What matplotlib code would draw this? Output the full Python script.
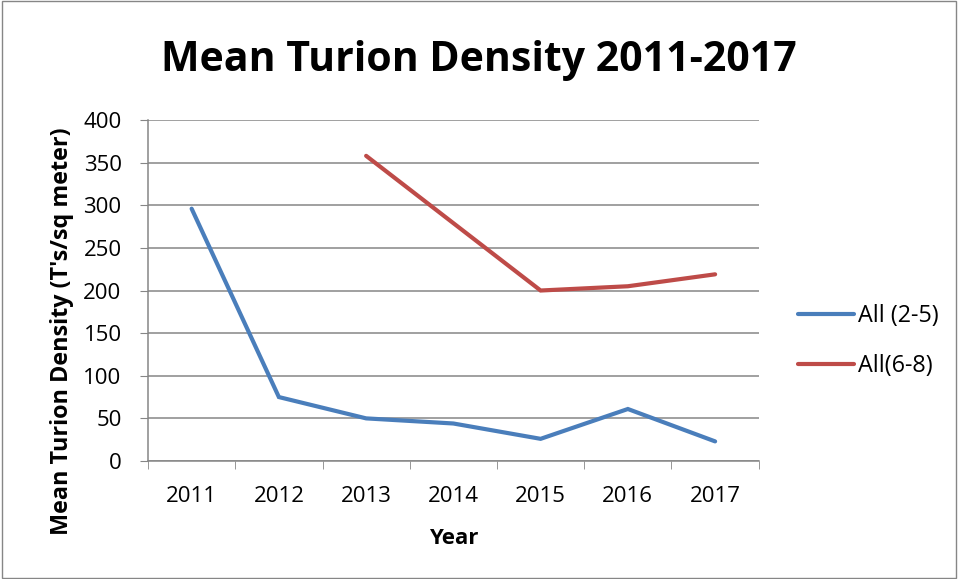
import matplotlib
matplotlib.use("Agg")
import matplotlib.pyplot as plt
import numpy as np

years = ["2011", "2012", "2013", "2014", "2015", "2016", "2017"]
all_2_5 = [296, 75, 50, 44, 26, 61, 23]
all_6_8 = [None, None, 358, 279, 200, 205, 219]
yticks = [0, 50, 100, 150, 200, 250, 300, 350, 400]

plt.rcParams['font.family'] = ['Open Sans', 'DejaVu Sans']

fig = plt.figure(figsize=(9.58, 5.79), dpi=100)
ax = fig.add_axes([0.1545, 0.2038, 0.792 - 0.1545, 0.7927 - 0.2038])

x = np.arange(len(years))
ax.plot(x, all_2_5, color='#4a7ebb', lw=3.0, solid_capstyle='round', solid_joinstyle='miter', label='All (2-5)')
red = np.array([np.nan if v is None else v for v in all_6_8], dtype=float)
ax.plot(x, red, color='#be4b48', lw=3.0, solid_capstyle='round', solid_joinstyle='miter', label='All(6-8)')

fs = 16
ax.set_xlim(-0.5, len(years) - 0.5)
ax.set_ylim(0, 400)
ax.set_yticks(yticks)
ax.set_yticklabels([str(v) for v in yticks], fontsize=fs)
ax.set_xticks(x)
ax.set_xticklabels(years, fontsize=fs)
ax.set_xticks(np.arange(-0.5, len(years), 1), minor=True)
ax.tick_params(axis='x', which='major', length=0, pad=18)
ax.tick_params(axis='x', which='minor', length=6, color='#868686', direction='out')
ax.tick_params(axis='y', which='major', length=6, color='#868686', direction='out', pad=13)
ax.grid(axis='y', color='#868686', lw=1.1)
ax.set_axisbelow(True)
for s in ['top', 'right']:
    ax.spines[s].set_visible(False)
for s in ['left', 'bottom']:
    ax.spines[s].set_color('#868686')
    ax.spines[s].set_linewidth(1.1)

ax.set_xlabel('Year', fontsize=fs, fontweight='bold', labelpad=15)
ax.set_ylabel("Mean Turion Density (T's/sq meter)", fontsize=16.8, fontweight='bold')
ax.yaxis.set_label_coords(-0.121, 0.381)

fig.text(0.5, 0.896, 'Mean Turion Density 2011-2017', ha='center', va='center', fontsize=29.5, fontweight='bold')

leg = fig.legend(loc='upper left', bbox_to_anchor=(798 / 958, 1 - 304 / 579), frameon=False, fontsize=16.8,
                 handlelength=2.4, handletextpad=0.15, labelspacing=1.1, borderpad=0, borderaxespad=0)

fig.patches.append(plt.Rectangle((0.002, 0.002), 0.996, 0.996, transform=fig.transFigure,
                                 fill=False, edgecolor='#868686', lw=1.0))

fig.savefig('out.png', dpi=100)
